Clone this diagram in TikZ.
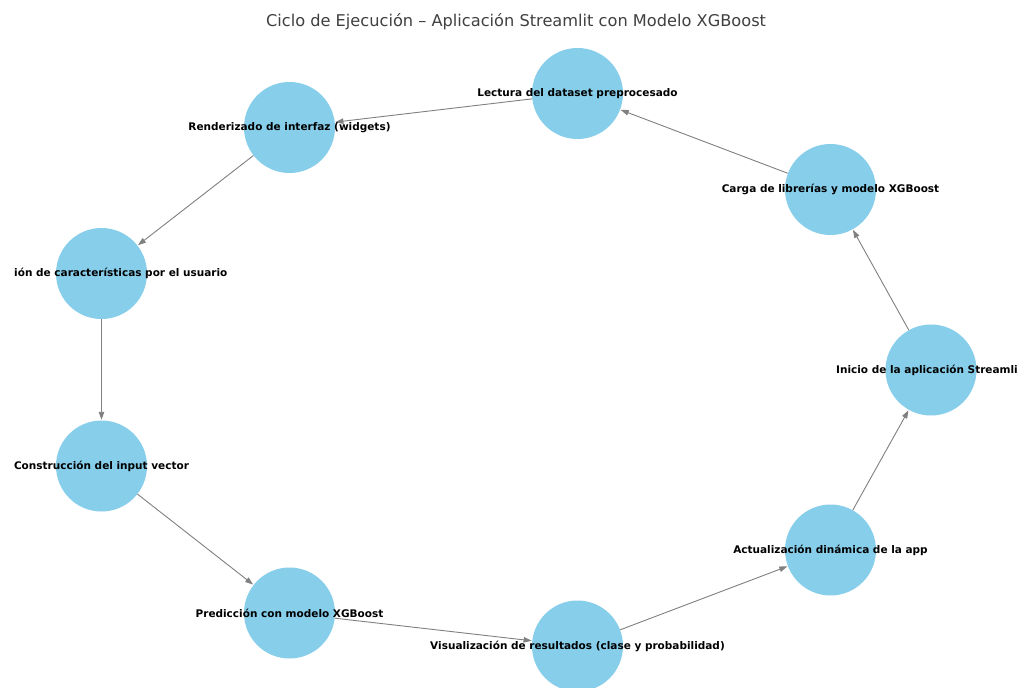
\documentclass[tikz,border=0pt]{standalone}
\usepackage{fontspec}
\setmainfont{DejaVu Sans}
\usetikzlibrary{arrows.meta}
\definecolor{nodeblue}{HTML}{87CEEB}
\definecolor{edgegray}{HTML}{808080}
\definecolor{titlegray}{HTML}{404040}
\tikzset{
  circ/.style={circle, fill=nodeblue, draw=none, minimum size=91pt, inner sep=0pt},
  lbl/.style={font=\fontsize{10.5}{12}\selectfont\bfseries, text=black, inner sep=0pt},
  flow/.style={draw=edgegray, line width=0.9pt, -{Triangle[length=8pt,width=5.5pt]}, shorten >=0.5pt},
}
\begin{document}
\begin{tikzpicture}[x=1pt,y=-1pt]
\useasboundingbox (0,0) rectangle (1020,688);
\clip (0,0) rectangle (1020,688);
\fill[white] (0,0) rectangle (1020,688);
\node[font=\fontsize{16.2}{19}\selectfont, text=titlegray] (title) at (516,22) {Ciclo de Ejecución – Aplicación Streamlit con Modelo XGBoost};
\node[circ] (ini) at (931,370) {};
\node[circ] (car) at (830.5,189.5) {};
\node[circ] (lec) at (577.5,93.5) {};
\node[circ] (ren) at (289.5,127.5) {};
\node[circ] (sel) at (101.5,273.5) {};
\node[circ] (con) at (101.5,466) {};
\node[circ] (pre) at (289.5,613) {};
\node[circ] (vis) at (577.5,646) {};
\node[circ] (act) at (830.5,550) {};
\draw[flow] (ini) -- (car);
\draw[flow] (car) -- (lec);
\draw[flow] (lec) -- (ren);
\draw[flow] (ren) -- (sel);
\draw[flow] (sel) -- (con);
\draw[flow] (con) -- (pre);
\draw[flow] (pre) -- (vis);
\draw[flow] (vis) -- (act);
\draw[flow] (act) -- (ini);
\node[lbl, anchor=east] (tini) at (1018,370) {Inicio de la aplicación Streamli};
\node[lbl] (tcar) at (car) {Carga de librerías y modelo XGBoost};
\node[lbl] (tlec) at (lec) {Lectura del dataset preprocesado};
\node[lbl] (tren) at (ren) {Renderizado de interfaz (widgets)};
\node[lbl, anchor=west] (tsel) at (14,273.5) {ión de características por el usuario};
\node[lbl] (tcon) at (con) {Construcción del input vector};
\node[lbl] (tpre) at (pre) {Predicción con modelo XGBoost};
\node[lbl] (tvis) at (vis) {Visualización de resultados (clase y probabilidad)};
\node[lbl] (tact) at (act) {Actualización dinámica de la app};
\end{tikzpicture}
\end{document}
